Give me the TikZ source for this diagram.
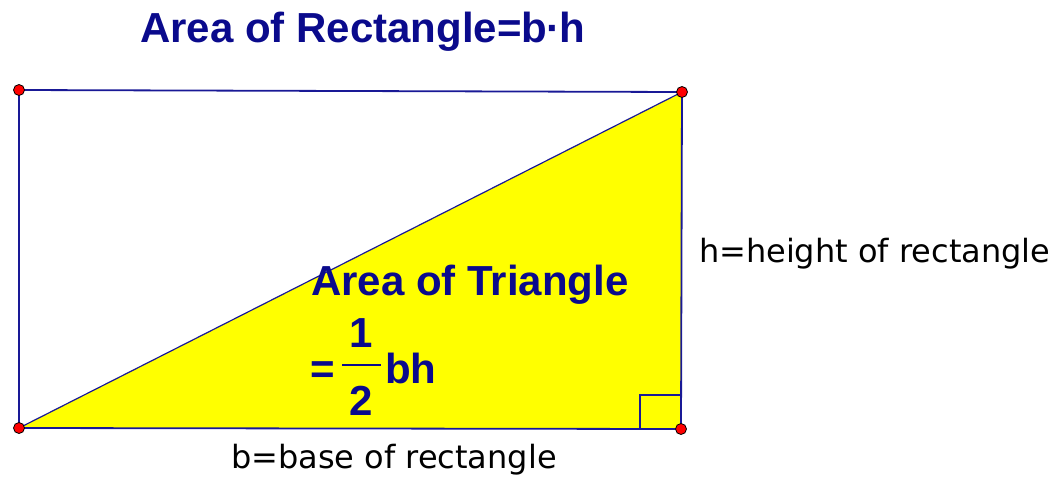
\documentclass[tikz,border=0pt]{standalone}
\usepackage{fontspec}
\setmainfont{Liberation Sans}
\newfontfamily\labelfont{DejaVu Sans}
\definecolor{areablue}{RGB}{10,10,140}
\definecolor{edgeblue}{RGB}{25,25,150}
\definecolor{trifill}{RGB}{255,255,0}
\begin{document}
\begin{tikzpicture}[x=1pt, y=-1pt,
    every node/.style={inner sep=0pt, outer sep=0pt},
    dot/.style={circle, draw=black, line width=0.8pt, fill=red, minimum size=11pt},
    edge/.style={draw=edgeblue, line width=1.8pt},
    bigtext/.style={anchor=base west, text=areablue, font=\fontsize{42}{48}\selectfont\bfseries},
    plaintext/.style={anchor=base west, text=black, font=\labelfont\fontsize{32}{38}\selectfont}]
    \path[use as bounding box] (0,0) rectangle (1058,480);
    \coordinate (A) at (19,428);
    \coordinate (B) at (681,429);
    \coordinate (C) at (682,92);
    \coordinate (D) at (19,90);

    % triangle and rectangle
    \fill[trifill] (A) -- (B) -- (C) -- cycle;
    \draw[edge] (A) -- (B) -- (C) -- (D) -- cycle;
    \draw[edge, line width=1.2pt] (A) -- (C);
    \draw[edge, line width=1.4pt] (640,429) -- (640,395) -- (681,395);

    \node[dot] (dA) at (A) {};
    \node[dot] (dB) at (B) {};
    \node[dot] (dC) at (C) {};
    \node[dot] (dD) at (D) {};

    % labels
    \node[bigtext] (rect) at (140,42) {Area of Rectangle=b\kern-1pt·\kern-1pth};
    \node[bigtext] (tri) at (311,295) {Area of Triangle};
    \node[bigtext] (eq) at (310,383) {=};
    \node[bigtext, anchor=base] (num) at (361,347) {1};
    \node[bigtext, anchor=base] (den) at (361,415) {2};
    \node[bigtext] (bh) at (385,383) {bh};
    \coordinate (barL) at (342,365);
    \coordinate (barR) at (381,365);
    \draw[areablue, line width=2pt] (barL) -- (barR);
    \node[plaintext] (hlab) at (699,262) {h=height of rectangle};
    \node[plaintext] (blab) at (231,468) {b=base of rectangle};
\end{tikzpicture}
\end{document}
